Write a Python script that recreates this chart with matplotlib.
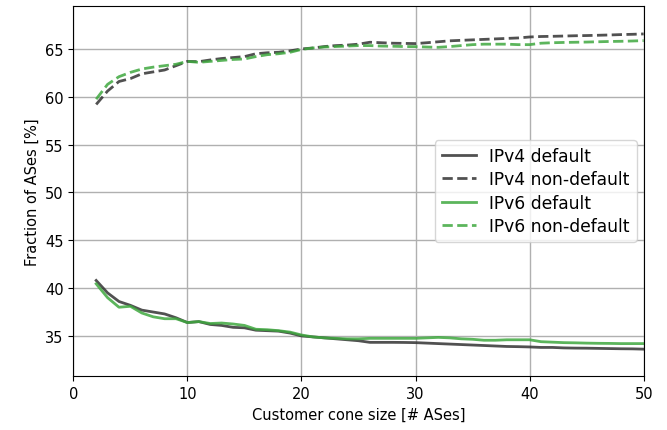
import matplotlib
matplotlib.use("Agg")
import matplotlib.pyplot as plt

# customer cone size (x) and fraction of ASes (%)
cone_size = list(range(2, 51))

v4_default = [40.8, 39.5, 38.6, 38.2, 37.7, 37.5, 37.3, 36.9, 36.4, 36.5,
              36.2, 36.1, 35.9, 35.85, 35.6, 35.55, 35.5, 35.3, 35.0, 34.9,
              34.8, 34.7, 34.6, 34.5, 34.33, 34.33, 34.33, 34.32, 34.3, 34.25,
              34.2, 34.15, 34.1, 34.05, 34.0, 33.95, 33.9, 33.88, 33.85, 33.8,
              33.8, 33.75, 33.73, 33.72, 33.7, 33.68, 33.66, 33.65, 33.62]
v4_nondefault = [59.2, 60.6, 61.6, 61.9, 62.4, 62.6, 62.8, 63.25, 63.7, 63.67,
                 63.85, 64.0, 64.1, 64.2, 64.5, 64.6, 64.65, 64.8, 65.0, 65.1,
                 65.25, 65.35, 65.4, 65.5, 65.7, 65.65, 65.6, 65.58, 65.56, 65.65,
                 65.75, 65.85, 65.9, 65.95, 66.0, 66.05, 66.1, 66.15, 66.25, 66.3,
                 66.32, 66.35, 66.38, 66.4, 66.43, 66.46, 66.5, 66.53, 66.57]
v6_default = [40.45, 39.0, 38.0, 38.1, 37.4, 37.0, 36.8, 36.8, 36.4, 36.5,
              36.3, 36.35, 36.25, 36.1, 35.7, 35.65, 35.55, 35.4, 35.1, 34.9,
              34.8, 34.75, 34.7, 34.7, 34.75, 34.75, 34.75, 34.75, 34.75, 34.8,
              34.85, 34.8, 34.7, 34.65, 34.55, 34.55, 34.6, 34.6, 34.6, 34.4,
              34.35, 34.3, 34.28, 34.25, 34.23, 34.22, 34.2, 34.2, 34.2]
v6_nondefault = [59.75, 61.3, 62.1, 62.55, 62.9, 63.1, 63.25, 63.4, 63.7, 63.6,
                 63.7, 63.8, 63.9, 63.95, 64.2, 64.4, 64.5, 64.65, 64.95, 65.1,
                 65.2, 65.25, 65.3, 65.35, 65.35, 65.3, 65.28, 65.25, 65.24, 65.2,
                 65.17, 65.25, 65.35, 65.45, 65.5, 65.5, 65.5, 65.45, 65.45, 65.6,
                 65.65, 65.68, 65.7, 65.72, 65.75, 65.78, 65.8, 65.83, 65.87]

gray = '#333333'
green = '#3fa83f'

plt.rcParams['font.size'] = 10.5

fig, ax = plt.subplots(figsize=(6.67, 4.31), dpi=100)
ax.plot(cone_size, v4_default, '-', c=gray, lw=2, alpha=0.85, label='IPv4 default')
ax.plot(cone_size, v4_nondefault, '--', c=gray, lw=2, alpha=0.85, label='IPv4 non-default')
ax.plot(cone_size, v6_default, '-', c=green, lw=2, alpha=0.85, label='IPv6 default')
ax.plot(cone_size, v6_nondefault, '--', c=green, lw=2, alpha=0.85, label='IPv6 non-default')

ax.set_xlim(0, 50)
ax.set_ylim(30.8, 69.5)
ax.set_yticks([35, 40, 45, 50, 55, 60, 65])
ax.set_xlabel('Customer cone size [# ASes]')
ax.set_ylabel('Fraction of ASes [%]')
ax.grid(True, color='#b0b0b0', lw=1)
ax.set_axisbelow(True)
ax.legend(loc='center right', fontsize=12.3, labelspacing=0.3,
          borderaxespad=0.4)

fig.subplots_adjust(left=0.11, right=0.965, top=0.984, bottom=0.125)
fig.savefig('out.png', dpi=100)
